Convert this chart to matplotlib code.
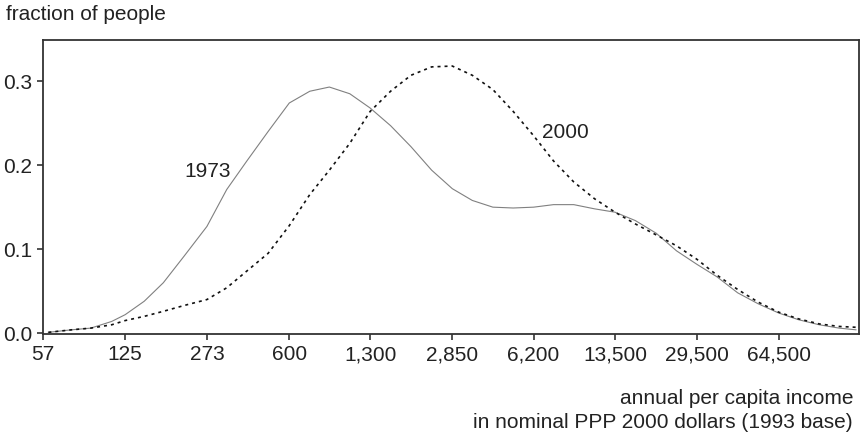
import matplotlib
matplotlib.use("Agg")
import matplotlib.pyplot as plt
from matplotlib.ticker import FixedLocator, NullLocator

# 收入网格（对数刻度），两条分布曲线
income = [60, 75, 90, 110, 125, 150, 180, 220, 273, 330, 400, 490, 600, 730, 880,
          1070, 1300, 1580, 1920, 2340, 2850, 3450, 4200, 5100, 6200, 7500, 9100,
          11100, 13500, 16400, 20000, 24300, 29500, 35800, 43600, 53000, 64500,
          78000, 95000, 115000, 135000]
y1973 = [0.001, 0.004, 0.006, 0.014, 0.022, 0.038, 0.060, 0.092, 0.127, 0.171, 0.205,
         0.240, 0.274, 0.288, 0.293, 0.285, 0.268, 0.247, 0.222, 0.194, 0.172, 0.158,
         0.150, 0.149, 0.150, 0.153, 0.153, 0.148, 0.144, 0.134, 0.119, 0.098, 0.082,
         0.067, 0.048, 0.035, 0.024, 0.016, 0.010, 0.006, 0.004]
y2000 = [0.001, 0.004, 0.006, 0.010, 0.015, 0.020, 0.026, 0.033, 0.040, 0.054, 0.074,
         0.095, 0.128, 0.165, 0.194, 0.226, 0.264, 0.288, 0.307, 0.317, 0.318, 0.307,
         0.290, 0.264, 0.235, 0.205, 0.180, 0.160, 0.144, 0.130, 0.117, 0.104, 0.088,
         0.069, 0.052, 0.037, 0.025, 0.017, 0.011, 0.008, 0.007]

xticks = [57, 125, 273, 600, 1300, 2850, 6200, 13500, 29500, 64500]
xtick_labels = ["57", "125", "273", "600", "1,300", "2,850", "6,200", "13,500", "29,500", "64,500"]
yticks = [0.0, 0.1, 0.2, 0.3]

plt.rcParams['font.family'] = ['Liberation Sans', 'DejaVu Sans']
txt = "#222222"
fs = 15

fig = plt.figure(figsize=(8.67, 4.37), dpi=100)
ax = fig.add_axes([43 / 867, 1 - 334 / 437, (859 - 43) / 867, (334 - 40) / 437])

ax.plot(income, y1973, color="#808080", lw=0.8)
ax.plot(income, y2000, color="#111111", lw=1.2, linestyle=(0, (1.8, 2.4)))

ax.set_xscale("log")
ax.set_xlim(57, 139000)
ax.set_ylim(-0.001, 0.349)
ax.xaxis.set_major_locator(FixedLocator(xticks))
ax.xaxis.set_minor_locator(NullLocator())
ax.set_xticklabels(xtick_labels)
ax.set_yticks(yticks)
ax.set_yticklabels(["0.0", "0.1", "0.2", "0.3"])
ax.tick_params(direction="out", length=4, width=1.2, color="#333333",
               labelsize=fs, labelcolor=txt, pad=4)

for s in ax.spines.values():
    s.set_color("#333333")
    s.set_linewidth(1.3)

ax.text(343, 0.192, "1973", fontsize=fs, color=txt, ha="right", va="center")
ax.text(6720, 0.239, "2000", fontsize=fs, color=txt, ha="left", va="center")

fig.text(6 / 867, 1 - 15 / 437, "fraction of people", fontsize=fs, color=txt,
         ha="left", va="center")
fig.text(853 / 867, 1 - 399 / 437, "annual per capita income", fontsize=fs,
         color=txt, ha="right", va="center")
fig.text(853 / 867, 1 - 422 / 437, "in nominal PPP 2000 dollars (1993 base)",
         fontsize=fs, color=txt, ha="right", va="center")

fig.savefig("out.png", dpi=100)
